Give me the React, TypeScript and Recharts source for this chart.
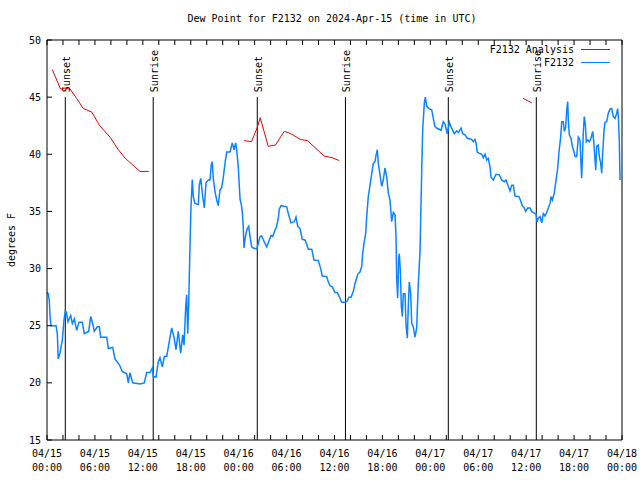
import { LineChart, Line, XAxis, YAxis, ReferenceLine } from "recharts";

// hours since 04/15 00:00 UTC, dew point in F
const dewDay1: [number, number][] = [
  [0, 27.9], [0.16, 27.8], [0.29, 27.2], [0.38, 25.8], [0.5, 25.0], [1.13, 25.0], [1.29, 24.3],
  [1.41, 22.1], [1.63, 22.6], [1.92, 23.75], [2.13, 25.5], [2.29, 26.3], [2.42, 26.2],
  [2.63, 25.35], [2.97, 25.9], [3.17, 25.2], [3.42, 25.6], [3.72, 24.6], [4.0, 25.3],
  [4.42, 25.3], [4.67, 24.3], [5.22, 24.5], [5.47, 25.8], [5.72, 25.2], [5.92, 24.5],
  [6.3, 24.9], [6.55, 24.9], [6.72, 24.0], [7.48, 24.0], [7.68, 23.0], [8.23, 23.1],
  [8.51, 22.1], [9.05, 21.6], [9.43, 21.0], [9.98, 20.8], [10.18, 20.0], [10.39, 20.9],
  [10.73, 20.0], [11.65, 19.9], [12.18, 20.0], [12.48, 20.9], [12.9, 20.9], [13.19, 21.3],
  [13.31, 20.55], [13.65, 20.5], [13.94, 21.85], [14.15, 22.2], [14.44, 21.4], [14.69, 22.3],
  [14.99, 22.3], [15.31, 23.6], [15.61, 24.8], [15.9, 24.0], [16.15, 22.9], [16.44, 24.5],
  [16.74, 22.6], [16.99, 24.2], [17.16, 23.3], [17.37, 26.7], [17.49, 27.7], [17.62, 24.3],
  [17.74, 26.8], [17.91, 32.1], [18.03, 35.4], [18.19, 37.8], [18.32, 36.3], [18.53, 35.7],
  [18.95, 35.6], [19.07, 37.3], [19.25, 37.9], [19.5, 36.3], [19.7, 35.3], [19.91, 37.5],
  [20.2, 37.75], [20.41, 37.75], [20.57, 39.1], [20.7, 39.35], [20.82, 37.9], [21.04, 36.7],
  [21.25, 36.0], [21.45, 35.5], [21.66, 36.9], [21.88, 37.1], [22.08, 38.0], [22.29, 39.2],
  [22.5, 40.2], [22.92, 40.2], [23.2, 41.0], [23.42, 40.4], [23.63, 41.0], [23.75, 40.4],
  [23.95, 38.9],
];

const dewDay2: [number, number][] = [
  [24.17, 36.1], [24.38, 35.4], [24.51, 34.5], [24.58, 33.5], [24.67, 31.8], [24.79, 32.5],
  [24.92, 33.1], [25.08, 33.5], [25.26, 33.7], [25.42, 32.8], [25.63, 31.9], [25.83, 31.8],
  [26.26, 31.7], [26.46, 32.2], [26.67, 32.8], [26.88, 32.85], [27.09, 32.5], [27.51, 31.9],
  [27.84, 32.5], [28.05, 32.9], [28.26, 32.8], [28.46, 33.2], [28.76, 33.7], [28.96, 34.4],
  [29.09, 35.2], [29.3, 35.5], [30.02, 35.4], [30.22, 34.8], [30.55, 34.0], [30.97, 34.1],
  [31.18, 34.5], [31.39, 33.7], [31.68, 33.5], [31.97, 32.55], [32.31, 32.5], [32.52, 32.1],
  [32.72, 31.7], [33.15, 31.7], [33.43, 30.75], [33.97, 30.7], [34.27, 30.0], [34.47, 29.35],
  [35.02, 29.3], [35.22, 28.85], [35.44, 28.5], [35.73, 28.4], [36.06, 27.9], [36.35, 27.9],
  [36.69, 27.4], [36.9, 27.05], [37.32, 27.05], [37.53, 27.1], [37.82, 27.5], [38.07, 27.5],
  [38.35, 28.0], [38.57, 28.7], [38.91, 29.5], [39.19, 29.7], [39.41, 30.2], [39.53, 31.3],
  [39.69, 32.2], [39.91, 33.1], [40.03, 34.5], [40.23, 36.3], [40.45, 37.3], [40.66, 38.3],
  [40.86, 39.2], [41.07, 39.35], [41.2, 39.9], [41.36, 40.4], [41.49, 39.2], [41.7, 38.2],
  [41.91, 37.2], [42.11, 37.75], [42.32, 38.8], [42.54, 38.0], [42.74, 36.6], [42.95, 36.0],
  [43.16, 34.1], [43.36, 34.9], [43.58, 34.7], [43.7, 32.8], [43.79, 29.1], [43.91, 27.4],
  [44.04, 30.9], [44.11, 31.3], [44.24, 29.9], [44.37, 26.7], [44.49, 25.8], [44.62, 27.8],
  [44.83, 27.8], [44.95, 25.1], [45.12, 23.9], [45.24, 26.7], [45.37, 28.85], [45.54, 27.8],
  [45.67, 25.2], [45.87, 24.9], [46.08, 24.0], [46.29, 24.8], [46.49, 28.6], [46.71, 31.5],
  [46.92, 38.6], [47.04, 42.1], [47.25, 44.5], [47.37, 45.0], [47.55, 44.2], [47.83, 44.0],
];

const dewDay3: [number, number][] = [
  [48.17, 43.9], [48.37, 43.15], [48.59, 42.4], [48.8, 42.3], [49.34, 42.1], [49.62, 42.85],
  [49.84, 42.65], [50.12, 41.8], [50.38, 42.8], [50.59, 42.4], [51.0, 41.8], [51.3, 42.05],
  [51.5, 41.9], [51.84, 42.3], [52.05, 41.8], [52.34, 41.7], [52.63, 41.4], [53.18, 41.3],
  [53.38, 41.1], [53.59, 41.3], [53.72, 41.0], [53.88, 40.2], [54.09, 40.1], [54.43, 40.0],
  [54.63, 39.7], [54.85, 40.0], [55.06, 39.5], [55.26, 39.65], [55.47, 38.9], [55.6, 38.0],
  [55.89, 37.75], [56.22, 38.25], [56.64, 38.2], [56.94, 37.75], [57.26, 37.6], [57.48, 37.75],
  [57.76, 37.2], [57.98, 36.8], [58.19, 37.3], [58.39, 37.3], [58.6, 36.35], [59.1, 36.3],
  [59.35, 35.85], [59.52, 35.5], [59.73, 35.35], [59.94, 35.0], [60.19, 35.3], [60.48, 35.3],
  [60.69, 35.0], [60.89, 34.9], [61.23, 34.8], [61.36, 34.1], [61.52, 34.4], [61.73, 34.55],
  [61.95, 34.0], [62.15, 34.8], [62.36, 34.6], [62.57, 34.9], [62.77, 35.3], [62.99, 35.7],
  [63.11, 36.3], [63.27, 36.0], [63.52, 36.6], [63.74, 37.75], [63.95, 38.8], [64.11, 40.2],
  [64.32, 41.5], [64.45, 42.85], [64.65, 42.85], [64.78, 42.0], [64.95, 42.4], [65.08, 43.9],
  [65.2, 44.6], [65.28, 43.0], [65.4, 41.7], [65.61, 41.4], [65.78, 40.7], [65.99, 40.2],
  [66.12, 39.8], [66.33, 39.8], [66.53, 41.5], [66.74, 41.25], [66.87, 39.1], [66.95, 37.9],
  [67.16, 42.0], [67.28, 43.3], [67.41, 42.6], [67.53, 41.1], [67.71, 41.25], [67.91, 41.1],
  [68.12, 41.4], [68.33, 42.0], [68.46, 41.1], [68.62, 39.5], [68.71, 38.6], [68.83, 40.7],
  [69.03, 40.8], [69.16, 39.8], [69.33, 39.2], [69.46, 38.35], [69.58, 40.1], [69.75, 42.1],
  [69.87, 42.8], [70.09, 42.85], [70.28, 43.6], [70.5, 43.95], [70.71, 44.0], [70.91, 43.3],
  [71.13, 43.15], [71.34, 43.6], [71.46, 44.0], [71.54, 43.3], [71.66, 41.25], [71.75, 37.75],
];

const analysisRun1: [number, number][] = [
  [0.67, 47.4], [1.7, 45.7], [2.25, 45.8], [2.9, 45.7], [3.7, 44.9], [4.55, 44.0], [5.6, 43.7],
  [6.6, 42.5], [7.9, 41.5], [8.93, 40.4], [9.8, 39.65], [11.0, 38.9], [11.65, 38.5], [12.75, 38.5],
];
const analysisRun2: [number, number][] = [
  [24.7, 41.2], [25.6, 41.1], [26.3, 42.3], [26.7, 43.2], [27.7, 40.7], [28.6, 40.8], [29.7, 42.0],
  [30.2, 41.9], [30.8, 41.7], [31.7, 41.3], [32.6, 41.2], [34.7, 39.85], [35.7, 39.7], [36.6, 39.45],
];
const analysisRun3: [number, number][] = [[59.6, 44.9], [60.7, 44.5]];

const sunEvents = [
  { label: "Sunset", h: 2.29 },
  { label: "Sunrise", h: 13.3 },
  { label: "Sunset", h: 26.33 },
  { label: "Sunrise", h: 37.37 },
  { label: "Sunset", h: 50.25 },
  { label: "Sunrise", h: 61.27 },
];

const tickDates = ["04/15", "04/15", "04/15", "04/15", "04/16", "04/16", "04/16", "04/16", "04/17", "04/17", "04/17", "04/17", "04/18"];
const tickTimes = ["00:00", "06:00", "12:00", "18:00"];
const hourTicks = Array.from({ length: 37 }, (_, i) => i * 2);
const dewTicks = [15, 20, 25, 30, 35, 40, 45, 50];

const FONT = "'DejaVu Sans Mono', monospace";
const BLUE = "#0a84ff";
const RED = "#f00000";

const toPts = (arr: [number, number][]) => arr.map(([h, v]) => ({ h, v }));
const obsData = toPts([...dewDay1, ...dewDay2, ...dewDay3]);
const analysisData = [
  ...toPts(analysisRun1),
  { h: 13.0, v: null },
  ...toPts(analysisRun2),
  { h: 37.0, v: null },
  ...toPts(analysisRun3),
];

function TimeTick(props: any) {
  const { x, y, payload } = props;
  const v = payload.value;
  if (v % 6 !== 0) return <g />;
  const i = v / 6;
  return (
    <g>
      <text x={x} y={y + 17} textAnchor="middle" fontSize={10} fontFamily={FONT} fill="#000">
        {tickDates[i]}
      </text>
      <text x={x} y={y + 31} textAnchor="middle" fontSize={10} fontFamily={FONT} fill="#000">
        {tickTimes[i % 4]}
      </text>
    </g>
  );
}

function SunLabel(props: any) {
  const { viewBox, text } = props;
  const x = viewBox.x + 4.5;
  const y = viewBox.y - 5;
  return (
    <text x={x} y={y} transform={`rotate(-90 ${x} ${y})`} fontSize={10} fontFamily={FONT} fill="#000">
      {text}
    </text>
  );
}

export default function App() {
  return (
    <div style={{ position: "absolute", left: 0, top: 0, width: 640, height: 480, background: "#fff", fontFamily: FONT, fontSize: 10 }}>
      <div style={{ position: "absolute", left: 0, width: 640, top: 13, textAlign: "center", paddingLeft: 24, boxSizing: "border-box", lineHeight: "12px" }}>
        Dew Point for F2132 on 2024-Apr-15 (time in UTC)
      </div>
      <div style={{ position: "absolute", left: 12, top: 240, transform: "translate(-50%, -50%) rotate(-90deg)", whiteSpace: "nowrap", lineHeight: "12px" }}>
        degrees F
      </div>
      <LineChart width={640} height={480} data={obsData} margin={{ top: 0, right: 0, bottom: 0, left: 0 }}>
        <XAxis
          dataKey="h"
          type="number"
          domain={[0, 72]}
          ticks={hourTicks}
          interval={0}
          height={40}
          stroke="#000"
          tickSize={-5}
          tickMargin={5}
          tick={<TimeTick />}
        />
        <XAxis
          xAxisId="top"
          orientation="top"
          dataKey="h"
          type="number"
          domain={[0, 72]}
          ticks={hourTicks}
          interval={0}
          height={40}
          stroke="#000"
          tickSize={-5}
          tick={() => <g />}
        />
        <YAxis
          type="number"
          domain={[15, 50]}
          ticks={dewTicks}
          interval={0}
          width={47}
          stroke="#000"
          tickSize={-5}
          tickMargin={11}
          tick={{ fill: "#000", fontSize: 10, fontFamily: FONT }}
        />
        <YAxis
          yAxisId="right"
          orientation="right"
          type="number"
          domain={[15, 50]}
          ticks={dewTicks}
          interval={0}
          width={18}
          stroke="#000"
          tickSize={-5}
          tick={() => <g />}
        />
        {sunEvents.map((s, i) => (
          <ReferenceLine
            key={i}
            segment={[{ x: s.h, y: 15 }, { x: s.h, y: 45 }]}
            stroke="#000"
            strokeWidth={1}
            label={(p: any) => <SunLabel {...p} text={s.label} />}
          />
        ))}
        <Line
          data={analysisData}
          dataKey="v"
          type="linear"
          stroke={RED}
          strokeWidth={1}
          dot={false}
          isAnimationActive={false}
        />
        <Line
          dataKey="v"
          type="linear"
          stroke={BLUE}
          strokeWidth={1.5}
          dot={false}
          isAnimationActive={false}
        />
      </LineChart>
      <div style={{ position: "absolute", right: 66, top: 43, lineHeight: "13px", textAlign: "right" }}>
        <div>F2132 Analysis</div>
        <div>F2132</div>
      </div>
      <div style={{ position: "absolute", left: 581, top: 49, width: 29, height: 1, background: RED }} />
      <div style={{ position: "absolute", left: 581, top: 61.5, width: 29, height: 1.5, background: BLUE }} />
    </div>
  );
}
